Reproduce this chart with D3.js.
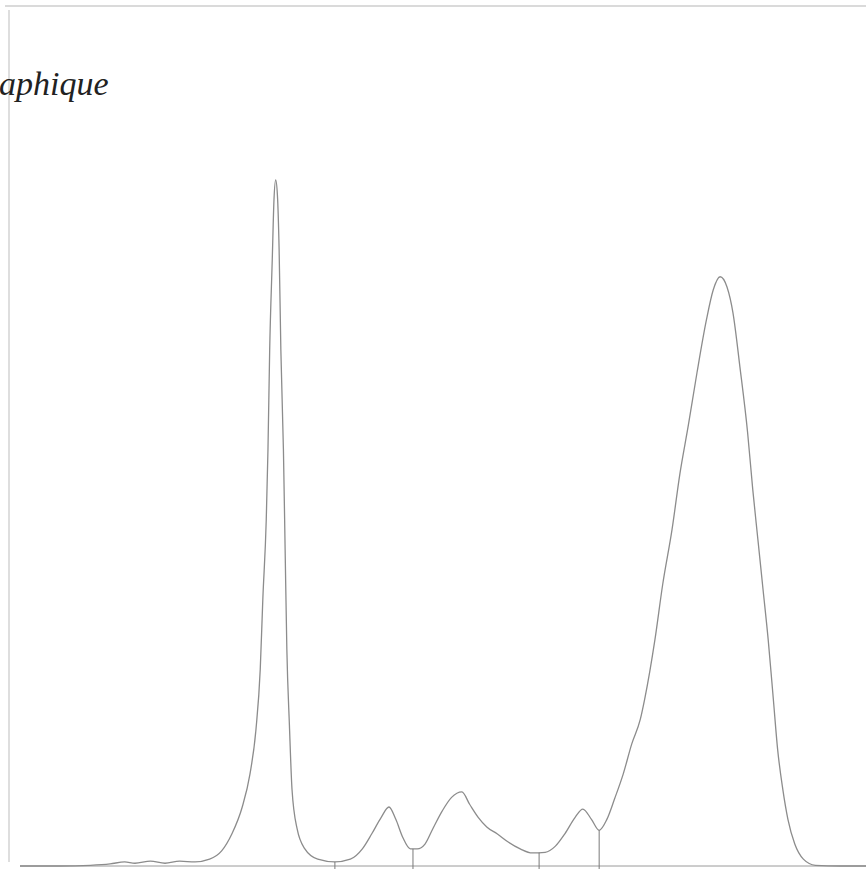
<!DOCTYPE html>
<html>
<head>
<meta charset="utf-8">
<script src="https://cdn.jsdelivr.net/npm/d3@7"></script>
<style>
  html, body { margin: 0; padding: 0; background: #fff; }
  svg { display: block; }
</style>
</head>
<body>
<div id="chart"></div>
<script>
// densitometry trace, migration distance (0-100) vs optical density (% of highest peak)
var distance = [1.4, 6.1, 9.6, 11.9, 13.6, 14.8, 16.6, 18.3, 20.0, 21.8, 23.5, 24.9, 26.1, 27.3, 28.2,
    28.9, 29.4, 29.7, 30.1, 30.3, 30.5, 30.8, 31.0, 31.2, 31.4, 31.6, 31.8, 32.1, 32.3, 32.5, 32.8,
    33.1, 33.7, 34.6, 36.1, 38.1, 39.9, 41.3, 42.4, 43.5, 44.4, 45.2, 46.0, 46.9, 47.7, 48.6, 49.5,
    50.6, 51.7, 52.9, 53.8, 54.8, 55.8, 57.0, 58.3, 59.7, 61.1, 62.6, 63.8, 64.9, 66.1, 67.0, 68.0,
    68.9, 69.8, 70.7, 71.7, 72.7, 73.7, 74.2, 75.4, 76.3, 77.4, 78.3, 79.3, 80.3, 81.4, 82.2, 83.0,
    83.8, 84.5, 85.3, 86.2, 86.8, 87.4, 88.0, 88.6, 89.2, 89.7, 90.3, 90.9, 91.7, 92.7, 94.1, 97.0, 100];
var density = [0, 0, 0.1, 0.3, 0.6, 0.4, 0.7, 0.4, 0.7, 0.6, 1.0, 2.2, 4.7, 8.6, 13.4,
    19.9, 28.7, 38.9, 50.5, 60.7, 75.3, 88.4, 97.1, 100, 97.8, 89.8, 75.3, 60.7, 46.1, 31.6, 20.5,
    11.2, 5.4, 2.5, 1.0, 0.6, 1.0, 2.5, 4.7, 7.1, 8.6, 6.8, 4.2, 2.5, 2.5, 3.2, 5.4,
    8.0, 10.0, 10.8, 9.0, 7.1, 5.7, 4.7, 3.5, 2.5, 1.9, 2.0, 2.9, 4.7, 7.1, 8.3, 6.8,
    5.2, 6.8, 9.8, 13.4, 17.8, 21.4, 24.3, 33.0, 41.0, 49.1, 57.1, 64.3, 71.9, 79.6, 84.0, 85.9,
    84.4, 80.6, 72.8, 63.2, 54.9, 47.6, 40.3, 33.0, 24.3, 17.0, 11.2, 6.8, 3.2, 1.0, 0.1, 0, 0];
// fraction boundaries (valleys between bands)
var cuts = [38.1, 47.2, 61.9, 68.9];

var W = 866, H = 871;
var x = d3.scaleLinear().domain([0, 100]).range([8, 866]);
var y = d3.scaleLinear().domain([0, 100]).range([866, 180]);

var svg = d3.select('#chart').append('svg')
    .attr('width', W)
    .attr('height', H);

// frame: top and left edges of the scanned sheet
svg.append('line')
    .attr('x1', 5).attr('x2', W).attr('y1', 6).attr('y2', 6)
    .style('stroke', '#b5b5b5').style('stroke-width', 1.2);
svg.append('line')
    .attr('x1', 9).attr('x2', 9).attr('y1', 10).attr('y2', 862)
    .style('stroke', '#bdbdbd').style('stroke-width', 1);

// baseline
svg.append('line')
    .attr('x1', 20).attr('x2', W).attr('y1', y(0)).attr('y2', y(0))
    .style('stroke', '#9a9a9a').style('stroke-width', 1);

svg.append('text')
    .attr('x', -1).attr('y', 95)
    .style('font-family', '"Liberation Serif", "DejaVu Serif", serif')
    .style('font-style', 'italic')
    .style('font-size', '34px')
    .style('fill', '#222')
    .text('aphique');

var pts = distance.map(function(d, i) { return [d, density[i]]; });

var line = d3.line()
    .x(function(d) { return x(d[0]); })
    .y(function(d) { return y(d[1]); })
    .curve(d3.curveMonotoneX);

svg.append('path')
    .datum(pts)
    .attr('d', line)
    .style('fill', 'none')
    .style('stroke', '#8c8c8c')
    .style('stroke-width', 1.3);

// value of the trace at a given distance (linear interpolation between samples)
function valueAt(d) {
    var i = d3.bisectLeft(distance, d);
    if (i <= 0) { return density[0]; }
    var t = (d - distance[i - 1]) / (distance[i] - distance[i - 1]);
    return density[i - 1] + t * (density[i] - density[i - 1]);
}

svg.selectAll('line.cut').data(cuts).enter().append('line')
    .attr('class', 'cut')
    .attr('x1', function(d) { return x(d); })
    .attr('x2', function(d) { return x(d); })
    .attr('y1', function(d) { return y(valueAt(d)); })
    .attr('y2', y(0) + 3)
    .style('stroke', '#7a7a7a')
    .style('stroke-width', 1);
</script>
</body>
</html>
